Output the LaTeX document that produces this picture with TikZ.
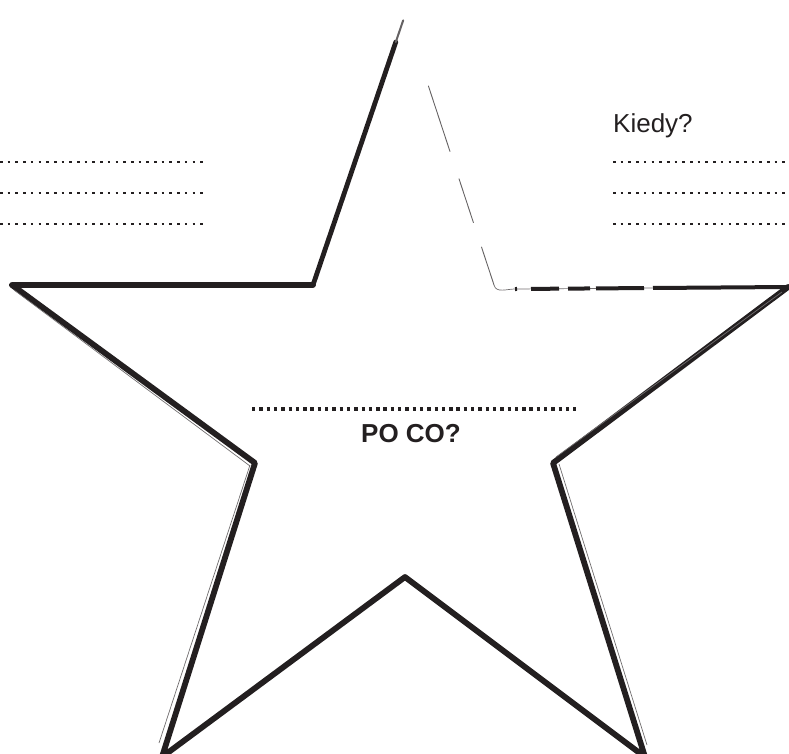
\documentclass[tikz,border=0pt]{standalone}
\usepackage{fontspec}
\setmainfont{Liberation Sans}
\usetikzlibrary{positioning,calc}
\definecolor{inkBlack}{RGB}{35,31,32}
\tikzset{
  outline/.style={line width=5.8pt, line join=round, line cap=round, draw=inkBlack},
  thinstroke/.style={line width=0.7pt, draw=inkBlack!65},
  faintstroke/.style={line width=0.9pt, line cap=round, draw=inkBlack!70},
  brokenstroke/.style={line width=4pt, draw=inkBlack,
              dash pattern=on 2pt off 14pt on 28pt off 9pt on 22pt off 6pt on 48pt off 9pt on 200pt},
  dotline/.style={line width=2.6pt, dash pattern=on 2.6pt off 5.1pt, draw=inkBlack},
  bigdotline/.style={line width=3.4pt, dash pattern=on 3.4pt off 3.9pt, draw=inkBlack},
  label/.style={font=\fontsize{26}{30}\selectfont, inner sep=0pt, text=inkBlack}
}
\begin{document}
\begin{tikzpicture}[x=1pt, y=-1pt]
\useasboundingbox (0,0) rectangle (789,753);
% star corners
\coordinate (top) at (405,15);
\coordinate (lsh) at (313,285);
\coordinate (lpt) at (12,285);
\coordinate (lin) at (255,463);
\coordinate (lbot) at (162,757);
\coordinate (bin) at (405,577);
\coordinate (rbot) at (645,757);
\coordinate (rin) at (553,463);
\coordinate (rpt) at (788,287);
\coordinate (rsh) at (495,288);

% star outline
\draw[outline] (lsh) -- (lpt) -- (lin) -- (lbot) -- (bin) -- (rbot) -- (rin) -- (rpt);
\draw[outline, line width=4.8pt] ($(top)!0.1!(lsh)$) -- (lsh);
\draw[faintstroke, line width=2pt] ($(top)!0.02!(lsh)$) -- ($(top)!0.1!(lsh)$);
\draw[thinstroke] ($(lpt)+(2,5)$) -- ($(lin)+(-5,3)$);
\draw[thinstroke] ($(rin)+(6,1)$) -- ($(rbot)+(2,-12)$);
\draw[thinstroke] ($(rin)+(3,-6)$) -- ($(rpt)+(-6,5)$);
\draw[thinstroke] ($(lin)+(-5,2)$) -- ($(lbot)+(-3,-14)$);
% faint top right edge
\foreach \s/\e in {0.26/0.5, 0.6/0.76, 0.85/0.99}
  \draw[faintstroke] ($(top)!\s!(rsh)$) -- ($(top)!\e!(rsh)$);
\draw[thinstroke] ($(top)!0.99!(rsh)$) to[out=-75, in=180] ($(rsh)+(20,1)$);
\draw[thinstroke] ($(rsh)+(20,1)$) -- (rpt);
\draw[brokenstroke] ($(rsh)+(20,1)$) -- (rpt);

% left lines
\foreach \y in {162,193,224}
  \draw[dotline] (0,\y) -- (207,\y);

% right lines
\node[label, anchor=base west] (kiedy) at (613,132) {Kiedy?};
\foreach \y in {162,193,224}
  \draw[dotline] (613,\y) -- (789,\y);

% centre
\coordinate (cl) at (252,409);
\coordinate (cr) at (576,409);
\draw[bigdotline] (cl) -- (cr);
\node[label, font=\fontsize{26}{30}\selectfont\bfseries, anchor=base] (poco) at (411,442) {PO CO?};
\end{tikzpicture}
\end{document}
